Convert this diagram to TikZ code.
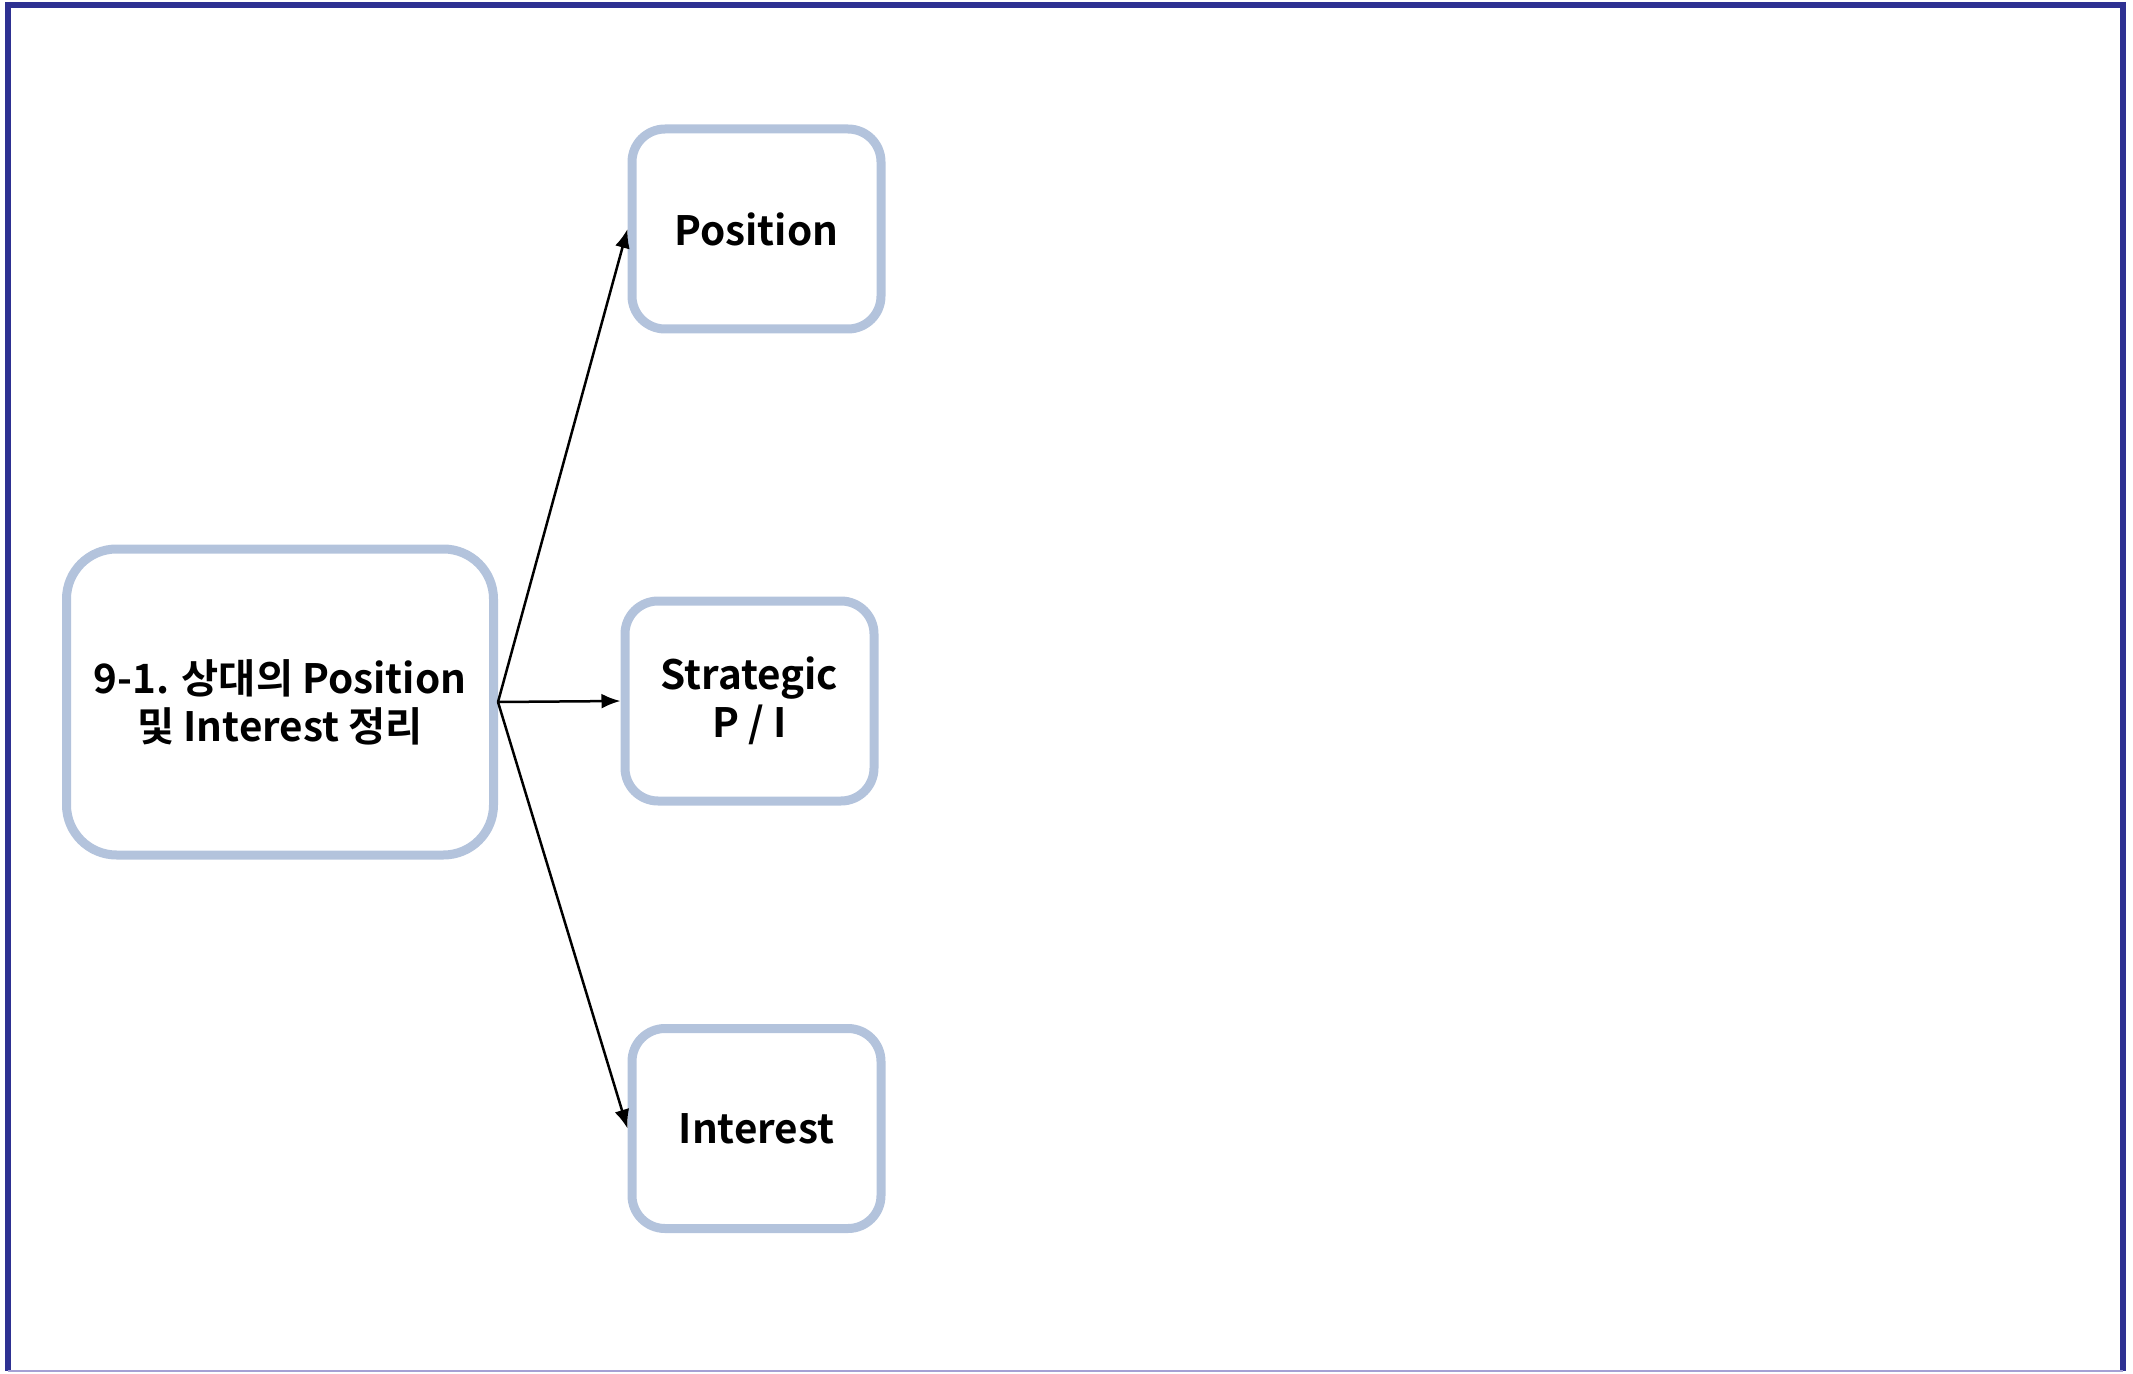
\documentclass[tikz,border=0pt]{standalone}
\usepackage{fontspec}
\setmainfont{Noto Sans CJK KR}[BoldFont={Noto Sans CJK KR Bold}]
\usepackage{tikz}
\usetikzlibrary{arrows.meta}

\definecolor{framenavy}{RGB}{46,49,146}
\definecolor{framelight}{RGB}{165,160,212}
\definecolor{boxblue}{RGB}{179,195,220}

\begin{document}
\begin{tikzpicture}[
    topicbox/.style={draw=boxblue, line width=0.09cm, rounded corners=0.5cm,
        minimum width=4.27cm, minimum height=3.06cm, align=center,
        font=\bfseries\fontsize{11.5}{13.6}\selectfont},
    subbox/.style={topicbox, rounded corners=0.33cm,
        minimum width=2.49cm, minimum height=2.00cm},
    link/.style={-{Latex[length=0.19cm,width=0.15cm]}, line width=0.025cm}
]
\useasboundingbox (0,0) rectangle (21.33,13.73);

% frame
\draw[framenavy, line width=0.06cm] (0.08,13.71) -- (0.08,0.02);
\draw[framenavy, line width=0.06cm] (0.05,13.68) -- (21.26,13.68);
\draw[framenavy, line width=0.06cm] (21.23,13.71) -- (21.23,0.02);
\draw[framelight, line width=0.02cm] (0.08,0.02) -- (21.23,0.02);

% nodes
\node[topicbox] (main) at (2.80,6.71) {9-1. 상대의 Position\\및 Interest 정리};
\node[subbox] (pos) at (7.565,11.44) {Position};
\node[subbox] (spi) at (7.495,6.72) {Strategic\\P / I};
\node[subbox] (int) at (7.565,2.445) {Interest};

% arrows
\foreach \t in {pos, spi, int}
{
    \draw[link] (main.east) -- (\t.west);
}

\end{tikzpicture}
\end{document}
